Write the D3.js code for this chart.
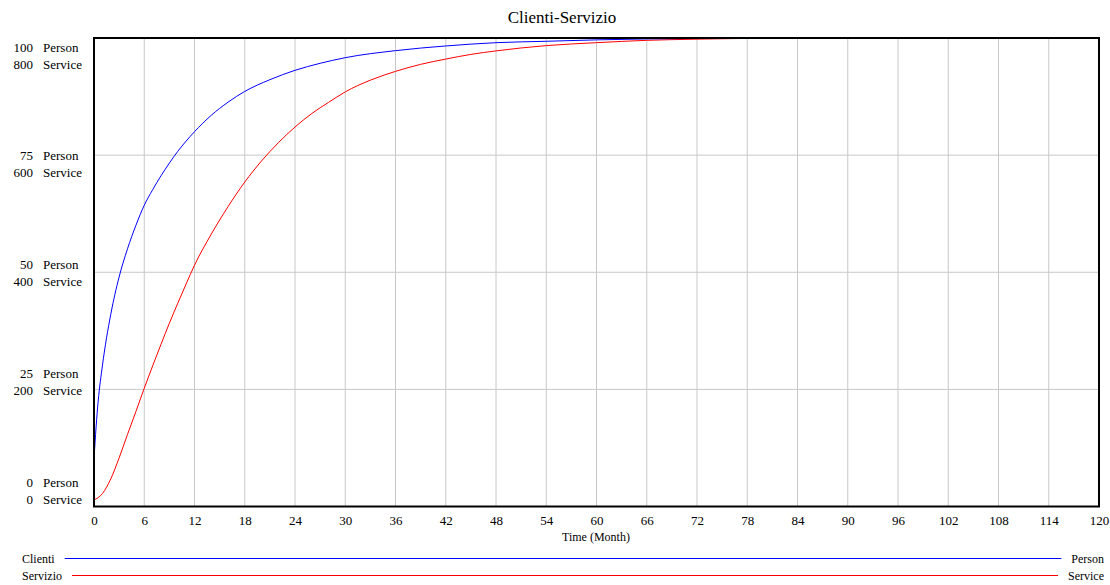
<!DOCTYPE html>
<html>
<head>
<meta charset="utf-8">
<script src="https://cdn.jsdelivr.net/npm/d3@7"></script>
<style>
  html, body { margin: 0; padding: 0; background: #fff; }
  svg { display: block; }
  text { font-family: "Liberation Serif", "Times New Roman", serif; fill: #000; }
</style>
</head>
<body>
<svg id="chart" width="1110" height="585"></svg>
<script>
// ---- data ----
const title = "Clienti-Servizio";
const xLabel = "Time (Month)";
const xTicks = d3.range(0, 121, 6);

const clientiTime   = [0, 0.25, 0.5, 1, 2, 3, 4, 5, 6, 7, 8, 9, 10, 11, 12, 14, 16, 18, 21, 24, 27, 30, 36, 42, 48, 54, 60, 66, 72, 84, 96, 108, 120];
const clientiValues = [10, 17, 22.5, 30, 41, 49, 55, 60, 64.3, 67.6, 70.6, 73.3, 75.8, 78.0, 80.0, 83.5, 86.3, 88.6, 91.1, 93.1, 94.6, 95.8, 97.3, 98.3, 99.0, 99.3, 99.6, 99.8, 99.9, 100, 100, 100, 100];

const servizioTime   = [0, 1, 2, 3, 4, 5, 6, 7, 8, 9, 10, 11, 12, 14, 16, 18, 20, 22, 24, 26, 28, 30, 33, 36, 39, 42, 45, 48, 54, 60, 66, 72, 80, 90, 120];
const servizioValues = [11, 22, 47, 83, 123, 162, 202, 240, 277, 313, 347, 380, 412, 465, 512, 554, 590, 621, 648, 671, 690, 708, 728, 743, 755, 764, 772, 778, 787, 792, 796, 798, 799.5, 800, 800];

const personTicks  = [100, 75, 50, 25, 0];
const serviceTicks = [800, 600, 400, 200, 0];
const personUnit = "Person";
const serviceUnit = "Service";
const seriesNames = ["Clienti", "Servizio"];
const seriesUnits = ["Person", "Service"];
const seriesColors = ["#0000ff", "#ff0000"];

// ---- layout ----
const svg = d3.select("#chart");
const L = 94, R = 1099, T = 38, B = 506.5;

const x = d3.scaleLinear().domain([0, 120]).range([L, R]);
const yP = d3.scaleLinear().domain([0, 100]).range([B, T]);
const yS = d3.scaleLinear().domain([0, 800]).range([B, T]);

// title
svg.append("text").attr("x", 562).attr("y", 23).attr("text-anchor", "middle")
  .style("font-size", "17px").text(title);

// grid
const grid = svg.append("g").attr("stroke", "#c8c8c8").attr("stroke-width", 1);
xTicks.filter(d => d > 0 && d < 120).forEach(d => {
  grid.append("line").attr("x1", x(d)).attr("x2", x(d)).attr("y1", T).attr("y2", B);
});
[25, 50, 75].forEach(d => {
  grid.append("line").attr("x1", L).attr("x2", R).attr("y1", yP(d)).attr("y2", yP(d));
});

// lines
const lineP = d3.line().x((d, i) => x(clientiTime[i])).y(d => yP(d)).curve(d3.curveMonotoneX);
const lineS = d3.line().x((d, i) => x(servizioTime[i])).y(d => yS(d)).curve(d3.curveMonotoneX);
svg.append("path").attr("d", lineS(servizioValues)).attr("fill", "none")
  .attr("stroke", seriesColors[1]).attr("stroke-width", 1);
svg.append("path").attr("d", lineP(clientiValues)).attr("fill", "none")
  .attr("stroke", seriesColors[0]).attr("stroke-width", 1);

// frame
svg.append("rect").attr("x", L).attr("y", T).attr("width", R - L).attr("height", B - T)
  .attr("fill", "none").attr("stroke", "#000").attr("stroke-width", 2);

// x axis
const xAxis = d3.axisBottom(x).tickValues(xTicks).tickSize(0).tickPadding(9);
const gx = svg.append("g").attr("transform", `translate(0,${B})`).call(xAxis);
gx.select(".domain").remove();
gx.selectAll("text").style("font-size", "13px").style("font-family", "Liberation Serif, serif").attr("fill", "#000");

svg.append("text").attr("x", 596).attr("y", 541).attr("text-anchor", "middle")
  .style("font-size", "12px").text(xLabel);

// y labels (paired Person/Service)
const labelTop = 47, labelStep = 108.75;
personTicks.forEach((v, i) => {
  const yy = labelTop + i * labelStep;
  svg.append("text").attr("x", 33).attr("y", yy + 4.5).attr("text-anchor", "end")
    .style("font-size", "13px").text(v);
  svg.append("text").attr("x", 43).attr("y", yy + 4.5)
    .style("font-size", "13px").text(personUnit);
  svg.append("text").attr("x", 33).attr("y", yy + 17 + 4.5).attr("text-anchor", "end")
    .style("font-size", "13px").text(serviceTicks[i]);
  svg.append("text").attr("x", 43).attr("y", yy + 17 + 4.5)
    .style("font-size", "13px").text(serviceUnit);
});

// legend
const legY = [558.5, 575.5];
seriesNames.forEach((name, i) => {
  const t1 = svg.append("text").attr("x", 22).attr("y", legY[i] + 4.5).style("font-size", "12px").text(name);
  const t2 = svg.append("text").attr("x", 1104).attr("y", legY[i] + 4.5).attr("text-anchor", "end")
    .style("font-size", "12px").text(seriesUnits[i]);
  const w1 = t1.node().getComputedTextLength();
  const w2 = t2.node().getComputedTextLength();
  svg.append("line").attr("x1", 22 + w1 + 10).attr("x2", 1104 - w2 - 10)
    .attr("y1", legY[i]).attr("y2", legY[i])
    .style("stroke", seriesColors[i]).attr("stroke-width", 1);
});
</script>
</body>
</html>
